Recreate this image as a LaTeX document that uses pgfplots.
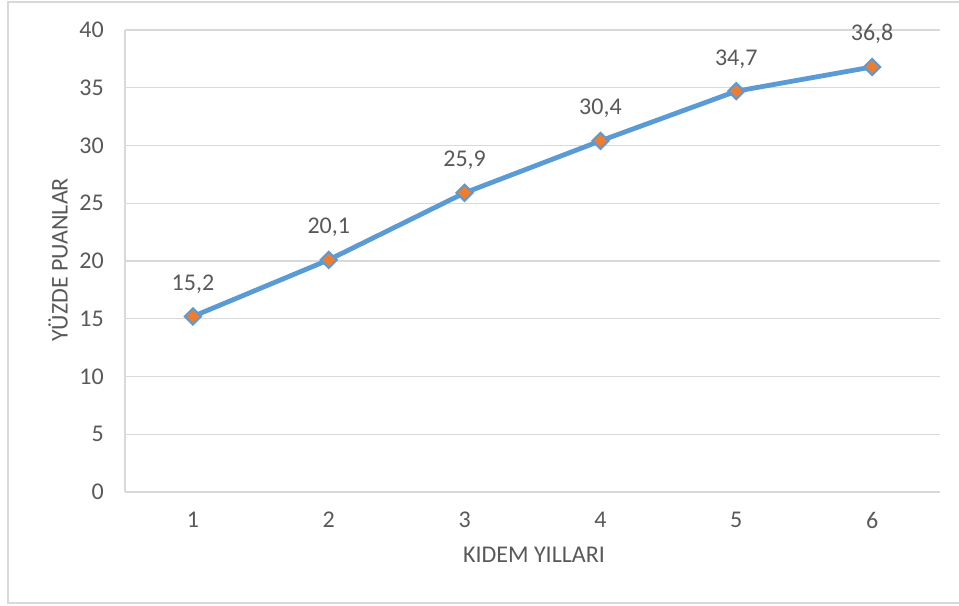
\documentclass[border=0pt]{standalone}
\usepackage{fontspec}
\setmainfont{Carlito}
\usepackage{pgfplots}
\pgfplotsset{compat=1.18}
\definecolor{lineblue}{HTML}{5B9BD5}
\definecolor{mkorange}{HTML}{ED7D31}
\definecolor{gridgray}{HTML}{D9D9D9}
\definecolor{txtgray}{HTML}{595959}
\newcommand{\lblfont}{\fontsize{18}{20}\selectfont}
\begin{document}
\begin{tikzpicture}
\useasboundingbox (0,0) rectangle (719.25pt,454.5pt);
\draw[gridgray, line width=1.5pt] (6pt,2.25pt) rectangle (740pt,453pt);
\begin{axis}[
  at={(93.75pt,85.5pt)}, anchor=south west, scale only axis,
  width=611.25pt, height=346.5pt,
  xmin=0.5, xmax=6.5, ymin=0, ymax=40,
  xtick={1,...,6}, ytick={0,5,...,40},
  ymajorgrids, grid style={gridgray, line width=1pt},
  axis lines=left, axis line style={gridgray, line width=1pt, -},
  major tick length=0pt,
  /pgf/number format/assume math mode=true,
  /pgf/number format/use comma,
  tick label style={font=\lblfont, text=txtgray, inner sep=0pt},
  yticklabel style={anchor=east, xshift=-15.75pt},
  xticklabel style={anchor=north, yshift=-15pt},
  nodes near coords={\pgfmathprintnumber[fixed,fixed zerofill,precision=1,use comma]{\pgfplotspointmeta}},
  nodes near coords style={anchor=base, yshift=19.5pt, font=\lblfont, text=txtgray, inner sep=0pt},
  clip=false,
]
\addplot[lineblue, line width=3.6pt, mark=square*, mark size=4.3pt,
  mark options={fill=mkorange, draw=lineblue, line width=1.5pt, rotate=45}]
  coordinates {(1,15.2) (2,20.1) (3,25.9) (4,30.4) (5,34.7) (6,36.8)};
\end{axis}
\node[text=txtgray, font=\lblfont, rotate=90] at (43.5pt,259.5pt) {YÜZDE PUANLAR};
\node[text=txtgray, font=\lblfont] at (400.5pt,38.25pt) {KIDEM YILLARI};
\end{tikzpicture}
\end{document}
